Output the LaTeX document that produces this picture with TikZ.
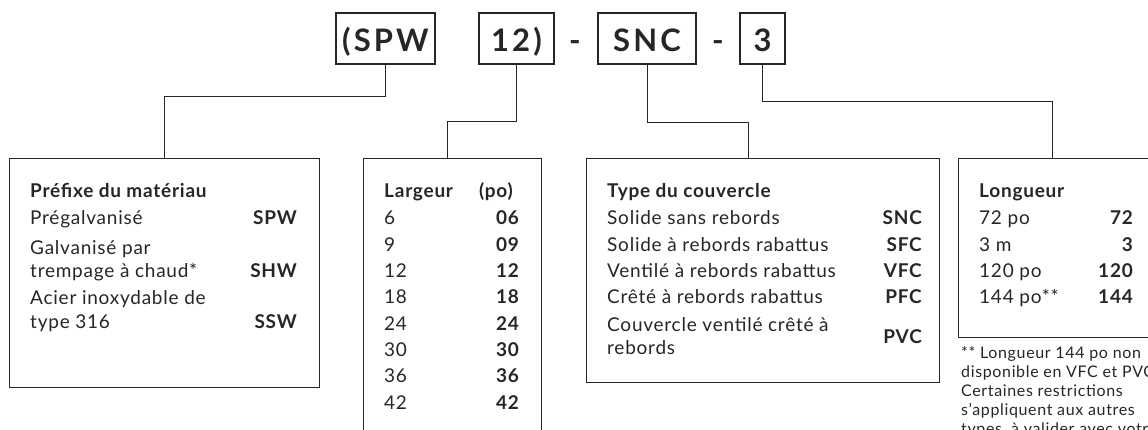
\documentclass[tikz,border=0pt]{standalone}
\usepackage{fontspec}
\setmainfont{Lato}[LetterSpace=4]
\newfontfamily\codefont{Lato}[LetterSpace=10]
\usetikzlibrary{positioning}

\definecolor{ink}{HTML}{262626}
\newcommand\cellfont{\fontsize{19}{22}\selectfont}
\newcommand\notefont{\fontsize{16}{19}\selectfont}

\begin{document}
\begin{tikzpicture}[x=1pt,y=-1pt,line join=miter,
    code box/.style={draw=ink,line width=1.3pt,minimum height=51pt,inner sep=0pt,
                     text height=27pt,text depth=0pt,text=ink,
                     font=\codefont\fontsize{31}{31}\selectfont\bfseries},
    sep mark/.style={anchor=base,inner sep=0pt,text=ink,font=\codefont\fontsize{31}{31}\selectfont\bfseries},
    table box/.style={draw=ink,line width=1.3pt,anchor=north west,inner sep=0pt},
    link/.style={draw=ink,line width=1pt},
    txt/.style={anchor=base west,inner sep=0pt,text=ink,font=\cellfont},
    head/.style={txt,font=\cellfont\bfseries},
    cd/.style={anchor=base east,inner sep=0pt,text=ink,font=\cellfont\bfseries},
    note/.style={anchor=base west,inner sep=0pt,text=ink,font=\notefont}]
\useasboundingbox (0,0) rectangle (1148,430);
\clip (0,0) rectangle (1148,430);

% catalogue number
\node[code box,minimum width=99pt] (spw) at (385.5,38.5) {(SPW};
\node[code box,minimum width=75pt] (w12) at (516.5,38.5) {12)};
\node[code box,minimum width=98pt] (snc) at (647,38.5) {SNC};
\node[code box,minimum width=45pt] (len) at (762.5,38.5) {3};
\node[sep mark] (d1) at (575,52) {-};
\node[sep mark] (d2) at (718,52) {-};

% option tables
\node[table box,minimum width=310pt,minimum height=229pt] (mat) at (9,158) {};
\node[table box,minimum width=178pt,minimum height=300pt] (larg) at (363,158) {};
\node[table box,minimum width=353pt,minimum height=224pt] (couv) at (586,158) {};
\node[table box,minimum width=200pt,minimum height=179pt] (long) at (958,158) {};

\draw[link] (spw.south) -- ++(0,32) -| (mat.north);
\draw[link] (w12.south) -- ++(0,57) -| ([xshift=-5pt]larg.north);
\draw[link] (snc.south) -- ++(0,58) -| ([xshift=-15pt]couv.north);
\draw[link] (len.south) -- ++(0,37) -| ([xshift=-6pt]long.north);

% material
\node[head] (mat0) at (30,198) {Préfixe du matériau};
\node[txt] (mat1) at (30,225) {Prégalvanisé};
\node[cd] (spwc) at (297,225) {SPW};
\node[txt] (mat2) at (30,255) {Galvanisé par};
\node[txt] (mat3) at (30,277) {trempage à chaud*};
\node[cd] (shwc) at (297,277) {SHW};
\node[txt] (mat4) at (30,305) {Acier inoxydable de};
\node[txt] (mat5) at (30,328) {type 316};
\node[cd] (sswc) at (297,328) {SSW};

% width
\node[head] (larg0) at (384,198) {Largeur};
\node[cd] (po) at (513,198) {(po)};
\foreach \w/\c [count=\i from 0] in {6/06,9/09,12/12,18/18,24/24,30/30,36/36,42/42}{
  \node[txt] (w\i) at (384,225+26.3*\i) {\w};
  \node[cd] (wc\i) at (519,225+26.3*\i) {\c};
}

% cover
\node[head] (couv0) at (607,198) {Type du couvercle};
\foreach \t/\c [count=\i from 0] in {Solide sans rebords/SNC,Solide à rebords rabattus/SFC,
    Ventilé à rebords rabattus/VFC,Crêté à rebords rabattus/PFC}{
  \node[txt] (cv\i) at (607,225+26.3*\i) {\t};
  \node[cd] (cvc\i) at (922,225+26.3*\i) {\c};
}
\node[txt] (cv4) at (607,331) {Couvercle ventilé crêté à};
\node[txt] (cv5) at (607,354) {rebords};
\node[cd] (cvc4) at (922,343) {PVC};

% length
\node[head] (long0) at (979,198) {Longueur};
\foreach \t/\c [count=\i from 0] in {72 po/72,3 m/3,120 po/120,144 po**/144}{
  \node[txt] (l\i) at (979,225+26.3*\i) {\t};
  \node[cd] (lc\i) at (1133,225+26.3*\i) {\c};
}

% footnote
\node[note] (n1) at (961,358) {** Longueur 144 po non};
\node[note] (n2) at (961,377) {disponible en VFC et PVC.};
\node[note] (n3) at (961,396) {Certaines restrictions};
\node[note] (n4) at (961,415) {s'appliquent aux autres};
\node[note] (n5) at (961,434) {types, à valider avec votre};
\end{tikzpicture}
\end{document}
